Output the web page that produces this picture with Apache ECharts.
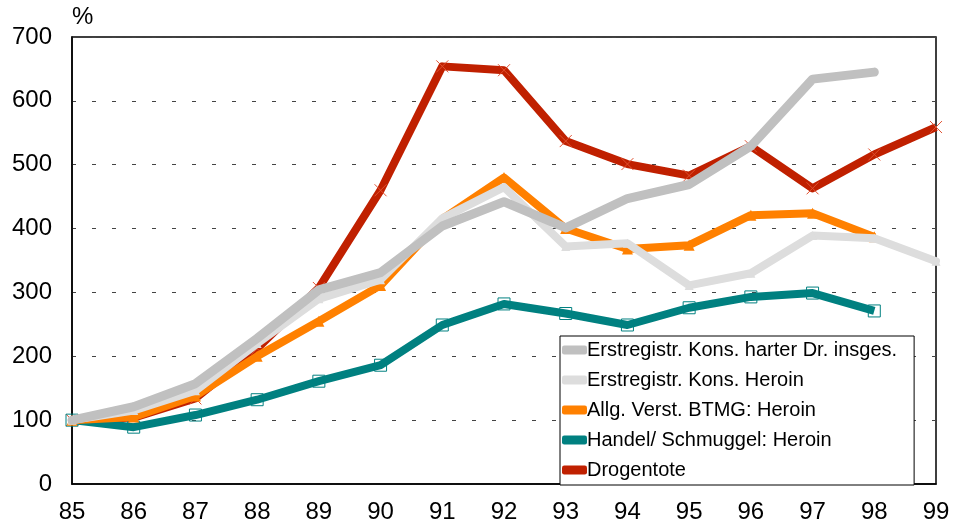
<!DOCTYPE html>
<html>
<head>
<meta charset="utf-8">
<script src="https://cdn.jsdelivr.net/npm/echarts@6/dist/echarts.min.js"></script>
<style>
  html, body { margin: 0; padding: 0; background: #fff; }
  #chart { width: 954px; height: 526px; }
</style>
</head>
<body>
<div id="chart"></div>
<script>
// Jahre (x-Achse)
var years = ['85', '86', '87', '88', '89', '90', '91', '92', '93', '94', '95', '96', '97', '98', '99'];

// Indexwerte, 1985 = 100
var kontHarteDrogen = [100, 121, 157, 228, 304, 331, 404, 442, 401, 447, 469, 529, 634, 645, null];
var kontHeroin      = [100, 115, 146, 220, 290, 320, 416, 465, 372, 377, 311, 330, 389, 385, 349];
var verstBtmg       = [100, 105, 138, 200, 255, 311, 415, 480, 400, 368, 374, 421, 424, 387, null];
var handelSchmuggel = [100, 89, 108, 132, 161, 186, 249, 282, 267, 249, 276, 293, 299, 271, null];
var drogentote      = [100, 104, 134, 212, 307, 460, 654, 648, 537, 501, 483, 529, 463, 516, 559];

var seriesNames = ['Erstregistr. Kons. harter Dr. insges.', 'Erstregistr. Kons. Heroin',
                   'Allg. Verst. BTMG: Heroin', 'Handel/ Schmuggel: Heroin', 'Drogentote'];
var seriesColors = ['#c0c0c0', '#dddddd', '#ff8000', '#008080', '#c02000'];

var chart = echarts.init(document.getElementById('chart'));
var fontFam = '"Liberation Sans", Arial, sans-serif';

chart.setOption({
    animation: false,
    textStyle: { fontFamily: fontFam },
    grid: {
        left: 72, right: 18, top: 37, bottom: 42,
        show: true,
        borderColor: '#000',
        borderWidth: 1.5,
        backgroundColor: 'transparent'
    },
    graphic: [{
        type: 'text',
        left: 72, top: 5,
        style: { text: '%', font: '24px ' + fontFam, fill: '#000' }
    }],
    legend: {
        orient: 'vertical',
        left: 560, top: 336,
        backgroundColor: '#fff',
        borderColor: '#000',
        borderWidth: 1,
        borderRadius: 0,
        padding: [4, 17, 5, 2],
        icon: 'roundRect',
        itemWidth: 25,
        itemHeight: 9,
        itemGap: 10,
        textStyle: { fontSize: 20, lineHeight: 20, color: '#000', fontFamily: fontFam, padding: [0, 0, 0, -5] },
        data: seriesNames.map(function (n, i) {
            return { name: n, itemStyle: { color: seriesColors[i], borderWidth: 0 } };
        }),
        z: 10
    },
    xAxis: {
        type: 'category',
        data: years,
        boundaryGap: false,
        axisLine: { lineStyle: { color: '#000', width: 1.5 } },
        axisTick: { show: false },
        axisLabel: { fontSize: 24, color: '#000', margin: 16, fontFamily: fontFam },
        splitLine: { show: false }
    },
    yAxis: {
        type: 'value',
        min: 0, max: 700, interval: 100,
        axisLine: { show: true, lineStyle: { color: '#000', width: 1.5 } },
        axisTick: { show: false },
        axisLabel: { fontSize: 24, color: '#000', margin: 20, fontFamily: fontFam },
        splitLine: { lineStyle: { color: '#444', type: [4, 16], width: 1.2 } }
    },
    series: [
        {
            name: seriesNames[0],
            type: 'line', data: kontHarteDrogen,
            symbol: 'none',
            lineStyle: { color: seriesColors[0], width: 9, cap: 'round', join: 'round' },
            itemStyle: { color: seriesColors[0] },
            z: 6
        },
        {
            name: seriesNames[1],
            type: 'line', data: kontHeroin,
            symbol: 'triangle', symbolSize: 9,
            lineStyle: { color: seriesColors[1], width: 8, cap: 'round', join: 'round' },
            itemStyle: { color: seriesColors[1] },
            z: 5
        },
        {
            name: seriesNames[2],
            type: 'line', data: verstBtmg,
            symbol: 'triangle', symbolSize: 11,
            lineStyle: { color: seriesColors[2], width: 8, join: 'round' },
            itemStyle: { color: seriesColors[2] },
            z: 4
        },
        {
            name: seriesNames[3],
            type: 'line', data: handelSchmuggel,
            symbol: 'rect', symbolSize: 12,
            lineStyle: { color: seriesColors[3], width: 8, join: 'round' },
            itemStyle: { color: 'none', borderColor: seriesColors[3], borderWidth: 1 },
            z: 3
        },
        {
            name: seriesNames[4],
            type: 'line', data: drogentote,
            symbol: 'path://M0,0L10,10M10,0L0,10', symbolSize: 12,
            lineStyle: { color: seriesColors[4], width: 8, join: 'round' },
            itemStyle: { color: 'none', borderColor: '#e05030', borderWidth: 1 },
            z: 2
        }
    ]
});
</script>
</body>
</html>
